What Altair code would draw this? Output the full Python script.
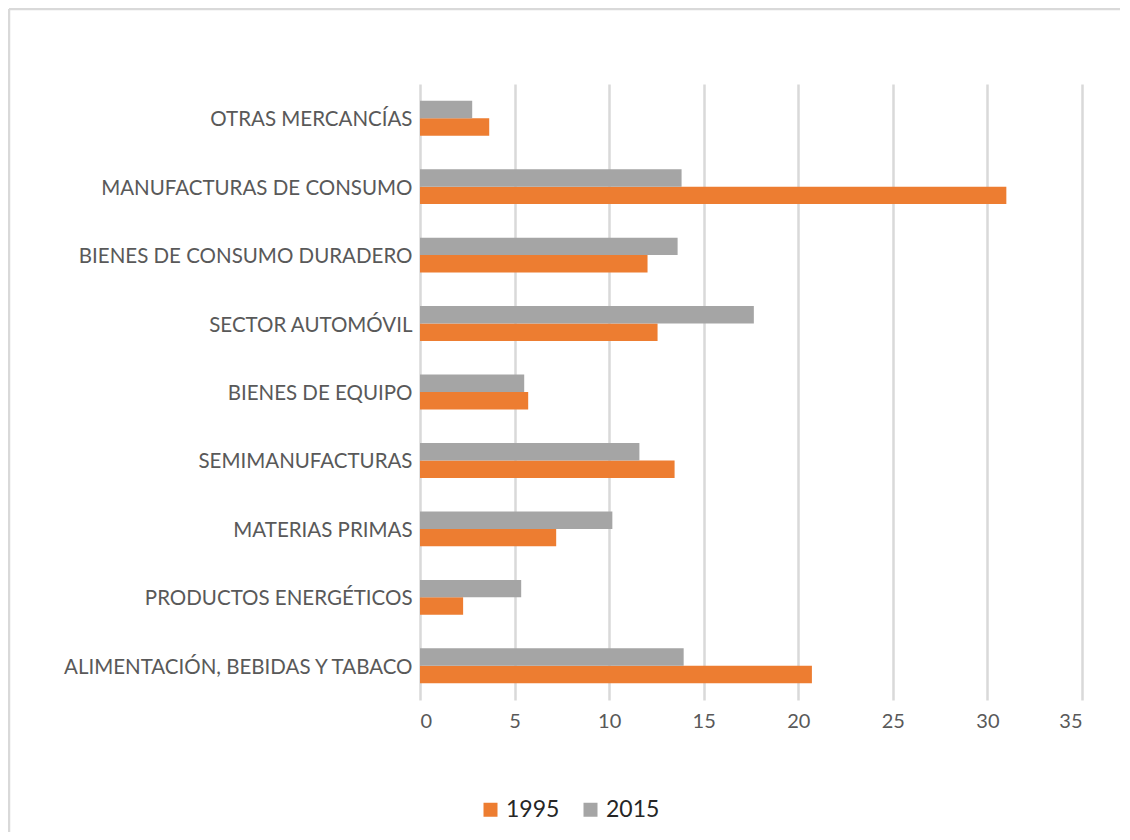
import altair as alt
import pandas as pd

categories = [
    "OTRAS MERCANCÍAS",
    "MANUFACTURAS DE CONSUMO",
    "BIENES DE CONSUMO DURADERO",
    "SECTOR AUTOMÓVIL",
    "BIENES DE EQUIPO",
    "SEMIMANUFACTURAS",
    "MATERIAS PRIMAS",
    "PRODUCTOS ENERGÉTICOS",
    "ALIMENTACIÓN, BEBIDAS Y TABACO",
]
values_1995 = [3.66, 31.0, 12.03, 12.56, 5.72, 13.46, 7.2, 2.28, 20.72]
values_2015 = [2.76, 13.83, 13.62, 17.65, 5.51, 11.6, 10.17, 5.35, 13.94]
years = ["1995", "2015"]
colors = ["#ED7D31", "#A5A5A5"]
x_ticks = [0, 5, 10, 15, 20, 25, 30, 35]

rows = []
for c, a, b in zip(categories, values_1995, values_2015):
    rows.append({"cat": c, "year": "1995", "value": a})
    rows.append({"cat": c, "year": "2015", "value": b})
df = pd.DataFrame(rows)

FONT = "Lato"
W, H = 662, 616
PAD = {"left": 412, "top": 76, "right": 38, "bottom": 132}

bars = alt.Chart(df).mark_bar().encode(
    x=alt.X("value:Q",
            scale=alt.Scale(domain=[0, 35], nice=False),
            axis=alt.Axis(values=x_ticks, title=None, grid=True, gridColor="#d9d9d9",
                          gridWidth=2.5, domain=False, ticks=False,
                          labelFont=FONT, labelFontSize=20, labelColor="#595959",
                          labelPadding=11)),
    y=alt.Y("cat:N", sort=categories,
            scale=alt.Scale(paddingInner=0.49, paddingOuter=0.245),
            axis=alt.Axis(title=None, domain=False, ticks=False,
                          labelFont=FONT, labelFontSize=20.5, labelColor="#595959",
                          labelPadding=8, labelLimit=500, labelOffset=2)),
    yOffset=alt.YOffset("year:N", sort=["2015", "1995"],
                        scale=alt.Scale(paddingInner=0, paddingOuter=0)),
    color=alt.Color("year:N", sort=years,
                    scale=alt.Scale(domain=years, range=colors),
                    legend=alt.Legend(title=None, orient="none", legendX=59, legendY=714,
                                      direction="horizontal", symbolType="square",
                                      symbolSize=196, symbolStrokeWidth=0,
                                      labelFont=FONT, labelFontSize=23,
                                      labelColor="#262626", labelOffset=4,
                                      columnPadding=19)),
)

frame = pd.DataFrame({"a": [0]})
top_line = alt.Chart(frame).mark_rule(color="#d9d9d9", strokeWidth=2.5, clip=False).encode(
    x=alt.value(-PAD["left"] + 1),
    x2=alt.value(W + PAD["right"]),
    y=alt.value(-PAD["top"] + 1),
)
left_line = alt.Chart(frame).mark_rule(color="#d9d9d9", strokeWidth=2.5, clip=False).encode(
    x=alt.value(-PAD["left"] + 1),
    y=alt.value(-PAD["top"] + 1),
    y2=alt.value(H + PAD["bottom"]),
)

chart = alt.layer(top_line, left_line, bars).properties(
    width=W, height=H,
    autosize=alt.AutoSizeParams(type="none"),
    padding=PAD,
).configure_view(stroke=None)

chart.save("out.html", embed_options={"renderer": "svg", "actions": False})
